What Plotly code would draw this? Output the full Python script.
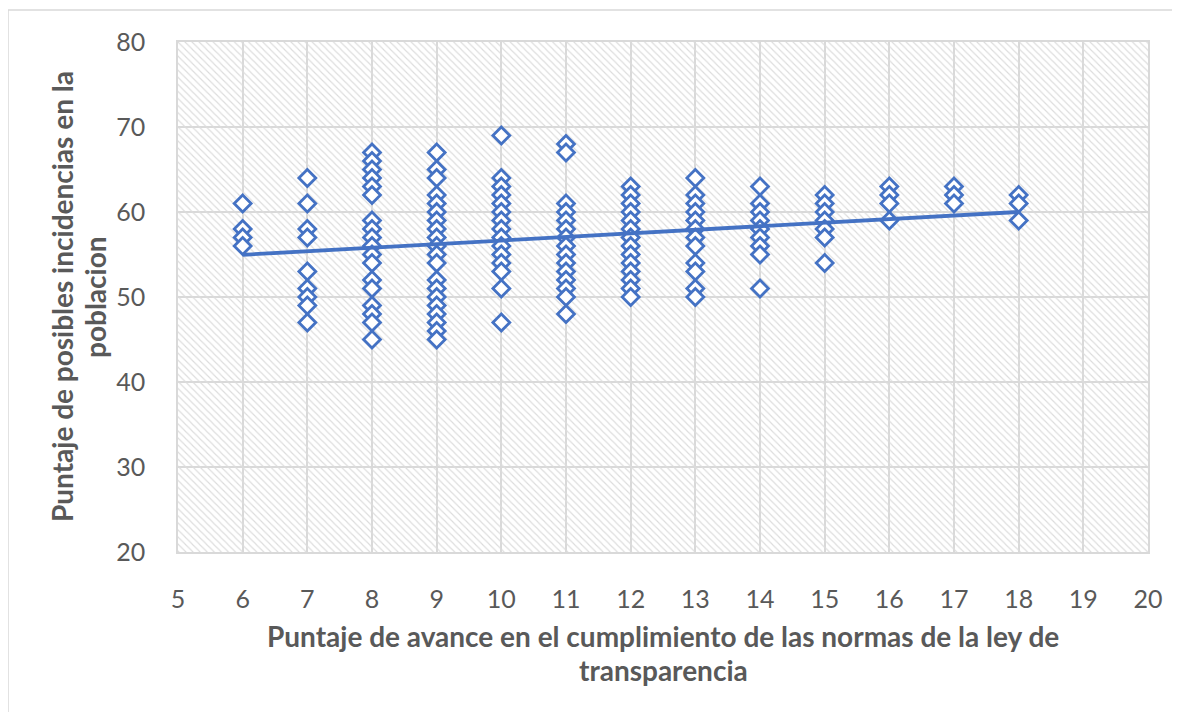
import numpy as np
import plotly.graph_objects as go

# ---- data ----
x_groups = [6, 7, 8, 9, 10, 11, 12, 13, 14, 15, 16, 17, 18]
y_groups = [
    [61, 58, 57, 56],
    [64, 61, 58, 57, 53, 51, 50, 49, 47],
    [67, 66, 65, 64, 63, 62, 59, 58, 57, 56, 55, 54, 52, 51, 49, 48, 47, 45],
    [67, 65, 64, 62, 61, 60, 59, 58, 57, 56, 55, 54, 52, 51, 50, 49, 48, 47, 46, 45],
    [69, 64, 63, 62, 61, 60, 59, 58, 57, 56, 55, 54, 53, 51, 47],
    [68, 67, 61, 60, 59, 58, 57, 56, 55, 54, 53, 52, 51, 50, 48],
    [63, 62, 61, 60, 59, 58, 57, 56, 55, 54, 53, 52, 51, 50],
    [64, 62, 61, 60, 59, 58, 57, 56, 54, 53, 51, 50],
    [63, 61, 60, 59, 58, 57, 56, 55, 51],
    [62, 61, 60, 59, 58, 57, 54],
    [63, 62, 61, 59],
    [63, 62, 61],
    [62, 61, 59],
]
x_range = [5, 20]
y_range = [20, 80]
x_ticks = list(range(5, 21))
y_ticks = list(range(20, 81, 10))

x_title = ["Puntaje de avance en el cumplimiento de las normas de la ley de", "transparencia"]
y_title = ["Puntaje de posibles incidencias en la", "poblacion"]

xs = [x for x, ys in zip(x_groups, y_groups) for _ in ys]
ys = [y for ys_ in y_groups for y in ys_]

slope, intercept = np.polyfit(xs, ys, 1)
trend_x = [min(xs), max(xs)]
trend_y = [slope * v + intercept for v in trend_x]

# ---- layout constants (page body has an 8px margin) ----
OFF = 8
W, H = 1180, 712
L, R, T, B = 178 - OFF, 32 + OFF, 42 - OFF, 160 + OFF
PW, PH = W - L - R, H - T - B
BLUE = "#4472C4"
GRID = "#d9d9d9"
TXT = "#595959"
FONT = "Lato"


def px_to_paper_x(px):
    return (px - OFF - L) / PW


def px_to_paper_y(py):
    return (H - B - (py - OFF)) / PH


fig = go.Figure()

# hatched plot background
fig.add_trace(go.Bar(
    x=[(x_range[0] + x_range[1]) / 2], y=[y_range[1] - y_range[0]], base=[y_range[0]],
    width=[x_range[1] - x_range[0]],
    marker=dict(color="rgba(0,0,0,0)", line=dict(width=0),
                pattern=dict(shape="\\", fgcolor="#dcdcdc", size=5, solidity=0.22, fillmode="replace")),
    hoverinfo="skip", showlegend=False,
))

fig.add_trace(go.Scatter(
    x=xs, y=ys, mode="markers",
    marker=dict(symbol="diamond", size=13, color="white", line=dict(color=BLUE, width=2.8)),
    showlegend=False,
))

fig.add_trace(go.Scatter(
    x=trend_x, y=trend_y, mode="lines",
    line=dict(color=BLUE, width=3.8), showlegend=False,
))

axis_common = dict(
    showgrid=True, gridcolor=GRID, gridwidth=1.6,
    showline=True, linecolor=GRID, linewidth=1.6, mirror=True, zeroline=False,
    ticks="outside", tickcolor="rgba(0,0,0,0)",
    tickfont=dict(family=FONT, size=25, color=TXT),
)
fig.update_xaxes(range=x_range, tickvals=x_ticks, ticklen=24, **axis_common)
fig.update_yaxes(range=y_range, tickvals=y_ticks, ticklen=26, **axis_common)

annotations = [
    dict(text=f"<b>{x_title[0]}</b>", x=0.5, y=px_to_paper_y(636)),
    dict(text=f"<b>{x_title[1]}</b>", x=0.5, y=px_to_paper_y(670)),
    dict(text=f"<b>{y_title[0]}</b>", x=px_to_paper_x(62), y=0.5, textangle=-90),
    dict(text=f"<b>{y_title[1]}</b>", x=px_to_paper_x(95), y=0.5, textangle=-90),
]
for a in annotations:
    a.update(xref="paper", yref="paper", showarrow=False, xanchor="center", yanchor="middle",
             font=dict(family=FONT, size=28, color=TXT))

fig.update_layout(
    width=W, height=H, margin=dict(l=L, r=R, t=T, b=B),
    paper_bgcolor="white", plot_bgcolor="white",
    annotations=annotations,
    shapes=[dict(type="rect", xref="paper", yref="paper",
                 x0=px_to_paper_x(8), x1=px_to_paper_x(W + 20),
                 y0=px_to_paper_y(H + 20), y1=px_to_paper_y(10),
                 line=dict(color=GRID, width=1.5), fillcolor="rgba(0,0,0,0)", layer="below")],
    bargap=0,
)

fig.write_html("out.html")
